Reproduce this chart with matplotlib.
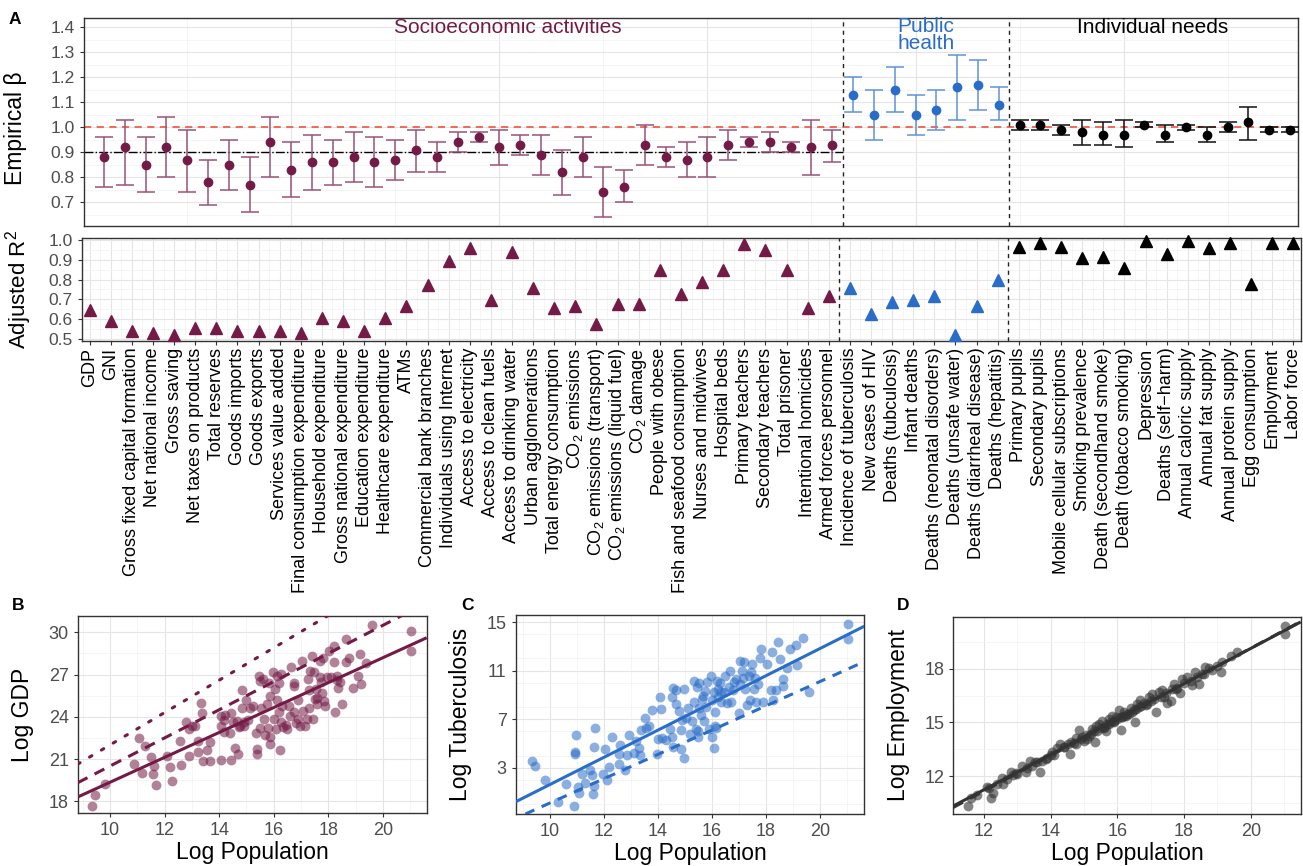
import numpy as np
import matplotlib
matplotlib.use("Agg")
import matplotlib.pyplot as plt
from matplotlib.ticker import MultipleLocator

plt.rcParams['font.family'] = ['Liberation Sans', 'DejaVu Sans']
plt.rcParams['mathtext.fontset'] = 'custom'
plt.rcParams['mathtext.rm'] = 'Liberation Sans'
plt.rcParams['mathtext.default'] = 'rm'

# ---------------- data: panel A ----------------
categories = [
    "GDP", "GNI", "Gross fixed capital formation", "Net national income", "Gross saving",
    "Net taxes on products", "Total reserves", "Goods imports", "Goods exports",
    "Services value added", "Final consumption expenditure", "Household expenditure",
    "Gross national expenditure", "Education expenditure", "Healthcare expenditure", "ATMs",
    "Commercial bank branches", "Individuals using Internet", "Access to electricity",
    "Access to clean fuels", "Access to drinking water", "Urban agglomerations",
    "Total energy consumption", "CO$_2$ emissions", "CO$_2$ emissions (transport)",
    "CO$_2$ emissions (liquid fuel)", "CO$_2$ damage", "People with obese",
    "Fish and seafood consumption", "Nurses and midwives", "Hospital beds", "Primary teachers",
    "Secondary teachers", "Total prisoner", "Intentional homicides", "Armed forces personnel",
    "Incidence of tuberculosis", "New cases of HIV", "Deaths (tubculosis)", "Infant deaths",
    "Deaths (neonatal disorders)", "Deaths (unsafe water)", "Deaths (diarrheal disease)",
    "Deaths (hepatitis)",
    "Primary pupils", "Secondary pupils", "Mobile cellular subscriptions", "Smoking prevalence",
    "Death (secondhand smoke)", "Death (tobacco smoking)", "Depression", "Deaths (self\u2212harm)",
    "Annual caloric supply", "Annual fat supply", "Annual protein supply", "Egg consumption",
    "Employment", "Labor force",
]
group_sizes = [36, 8, 14]
group_names = ["Socioeconomic activities", "Public\nhealth", "Individual needs"]

beta = [0.88, 0.92, 0.85, 0.92, 0.87, 0.78, 0.85, 0.77, 0.94, 0.83, 0.86, 0.86, 0.88, 0.86,
        0.87, 0.91, 0.88, 0.94, 0.96, 0.92, 0.93, 0.89, 0.82, 0.88, 0.74, 0.76, 0.93, 0.88,
        0.87, 0.88, 0.93, 0.94, 0.94, 0.92, 0.92, 0.93,
        1.13, 1.05, 1.15, 1.05, 1.07, 1.16, 1.17, 1.09,
        1.01, 1.01, 0.99, 0.98, 0.97, 0.97, 1.01, 0.97, 1.00, 0.97, 1.00, 1.02, 0.99, 0.99]
beta_lo = [0.76, 0.77, 0.74, 0.80, 0.74, 0.69, 0.75, 0.66, 0.80, 0.72, 0.75, 0.77, 0.78, 0.76,
           0.79, 0.82, 0.82, 0.90, 0.94, 0.85, 0.89, 0.81, 0.73, 0.80, 0.64, 0.70, 0.85, 0.84,
           0.80, 0.80, 0.87, 0.92, 0.90, 0.90, 0.81, 0.86,
           1.06, 0.95, 1.06, 0.97, 0.99, 1.03, 1.07, 1.03,
           0.99, 0.99, 0.97, 0.93, 0.93, 0.92, 1.00, 0.94, 0.99, 0.94, 0.98, 0.95, 0.98, 0.98]
beta_hi = [0.96, 1.03, 0.96, 1.04, 0.99, 0.87, 0.95, 0.88, 1.04, 0.94, 0.97, 0.95, 0.98, 0.96,
           0.95, 0.99, 0.94, 0.98, 0.98, 0.99, 0.97, 0.97, 0.91, 0.96, 0.84, 0.83, 1.01, 0.92,
           0.94, 0.96, 0.99, 0.96, 0.98, 0.94, 1.03, 0.99,
           1.20, 1.15, 1.24, 1.13, 1.15, 1.29, 1.27, 1.16,
           1.03, 1.03, 1.01, 1.03, 1.02, 1.03, 1.02, 1.01, 1.01, 1.00, 1.02, 1.08, 1.00, 1.00]
r2 = [0.645, 0.588, 0.537, 0.527, 0.517, 0.556, 0.556, 0.537, 0.537, 0.537, 0.527, 0.606,
      0.588, 0.537, 0.606, 0.667, 0.774, 0.895, 0.958, 0.695, 0.938, 0.758, 0.657, 0.668,
      0.577, 0.677, 0.677, 0.847, 0.727, 0.788, 0.847, 0.978, 0.949, 0.847, 0.657, 0.715,
      0.756, 0.627, 0.687, 0.695, 0.719, 0.517, 0.668, 0.796,
      0.965, 0.987, 0.965, 0.907, 0.916, 0.857, 0.997, 0.928, 0.997, 0.958, 0.987, 0.776,
      0.987, 0.987]

# ---------------- data: panels B-D ----------------
gdp_x = [9.36, 9.45, 9.82, 10.88, 11.06, 11.19, 11.29, 11.49, 11.57, 11.62, 11.68, 12.09, 12.19,
         12.29, 12.57, 12.62, 12.78, 12.88, 12.88, 13.00, 13.12, 13.21, 13.21, 13.34, 13.37, 13.40,
         13.55, 13.65, 13.68, 14.05, 14.06, 14.06, 14.16, 14.23, 14.38, 14.45, 14.45, 14.57, 14.65,
         14.69, 14.77, 14.83, 14.85, 14.90, 14.99, 15.04, 15.14, 15.24, 15.34, 15.39, 15.39, 15.45,
         15.48, 15.48, 15.54, 15.59, 15.63, 15.69, 15.74, 15.79, 15.83, 15.85, 15.88, 15.96, 16.00,
         16.05, 16.08, 16.12, 16.12, 16.18, 16.18, 16.22, 16.27, 16.27, 16.30, 16.35, 16.50, 16.57,
         16.64, 16.73, 16.75, 16.75, 16.80, 16.87, 16.95, 17.04, 17.06, 17.16, 17.20, 17.26, 17.28,
         17.34, 17.40, 17.44, 17.49, 17.54, 17.57, 17.59, 17.68, 17.71, 17.75, 17.80, 17.83, 17.89,
         17.95, 18.02, 18.10, 18.20, 18.20, 18.26, 18.31, 18.36, 18.44, 18.50, 18.63, 18.64, 18.76,
         18.89, 19.10, 19.16, 19.18, 19.38, 19.58, 21.02, 21.02, 14.16, 14.50, 14.71, 14.92, 15.88,
         16.44, 16.61, 16.88, 17.30, 17.50, 17.74, 18.30]
gdp_y = [17.67, 18.45, 19.20, 20.63, 22.52, 20.00, 21.95, 21.17, 19.94, 20.49, 19.18, 21.24, 20.46,
         19.42, 22.28, 20.58, 23.63, 23.14, 21.24, 23.37, 23.37, 21.53, 22.28, 24.96, 24.27, 20.87,
         21.64, 20.87, 22.20, 20.92, 23.35, 24.08, 23.78, 24.15, 22.85, 20.92, 24.25, 21.78, 23.73,
         21.35, 23.35, 25.93, 24.65, 23.35, 25.22, 23.75, 24.65, 24.74, 22.83, 21.70, 21.34, 26.92,
         26.57, 23.21, 24.63, 26.69, 23.85, 22.71, 24.89, 23.21, 26.38, 22.10, 22.54, 27.20, 23.85,
         25.98, 23.11, 26.92, 25.22, 26.38, 24.32, 21.64, 27.04, 23.61, 24.79, 23.25, 23.14, 24.74,
         27.56, 26.22, 26.38, 24.32, 23.56, 25.20, 23.37, 27.99, 24.39, 23.37, 23.85, 26.69, 25.89,
         27.28, 28.30, 23.82, 27.16, 25.98, 25.31, 24.89, 27.99, 26.81, 25.70, 28.18, 25.13, 24.79,
         26.81, 28.70, 26.81, 27.87, 29.05, 24.37, 26.88, 26.02, 26.45, 24.93, 29.53, 27.87, 28.20,
         26.07, 26.88, 28.46, 26.31, 27.82, 30.52, 30.07, 28.70, 22.95, 23.60, 23.25, 23.61, 25.50,
         23.44, 24.08, 23.85, 24.60, 25.30, 26.50, 26.60]

tb_x = [9.35, 9.45, 9.80, 10.31, 10.58, 10.88, 10.95, 10.93, 10.94, 11.05, 11.08, 11.19, 11.29,
        11.49, 11.57, 11.59, 11.62, 11.66, 11.64, 11.96, 12.02, 12.11, 12.19, 12.28, 12.55, 12.57,
        12.59, 12.77, 12.85, 12.94, 13.12, 13.18, 13.30, 13.33, 13.38, 13.53, 13.56, 13.67, 13.77,
        13.98, 14.01, 14.06, 14.11, 14.16, 14.31, 14.44, 14.50, 14.53, 14.55, 14.55, 14.65, 14.68,
        14.77, 14.85, 14.87, 14.90, 14.96, 14.98, 15.04, 15.10, 15.20, 15.26, 15.32, 15.35, 15.39,
        15.43, 15.48, 15.51, 15.53, 15.58, 15.63, 15.68, 15.70, 15.75, 15.78, 15.82, 15.88, 15.96,
        16.00, 16.01, 16.06, 16.08, 16.12, 16.16, 16.18, 16.22, 16.24, 16.29, 16.33, 16.43, 16.49,
        16.57, 16.64, 16.67, 16.71, 16.76, 16.83, 16.90, 17.00, 17.04, 17.10, 17.15, 17.20, 17.22,
        17.31, 17.37, 17.42, 17.49, 17.54, 17.59, 17.63, 17.71, 17.77, 17.83, 17.89, 18.04, 18.20,
        18.23, 18.26, 18.36, 18.46, 18.52, 18.63, 18.64, 18.78, 18.89, 19.12, 19.16, 19.38, 19.58,
        21.02, 21.02, 15.48, 16.12, 16.33, 17.45, 17.05]
tb_y = [3.58, 3.14, 1.95, 0.16, 1.68, -0.17, 5.68, 4.32, 4.10, 1.43, 0.88, 2.48, 1.76, 2.81, 2.42,
        0.85, 1.48, 6.26, 4.74, 2.45, 4.52, 1.95, 3.08, 5.54, 4.10, 3.28, 4.85, 2.78, 4.05, 5.70,
        4.24, 5.21, 4.60, 4.02, 6.12, 7.11, 6.31, 6.45, 7.74, 4.10, 5.34, 8.79, 7.83, 5.46, 5.26,
        6.23, 8.82, 5.54, 9.54, 4.74, 8.24, 9.37, 7.66, 6.12, 4.57, 6.94, 3.77, 9.51, 7.06, 7.94,
        5.81, 6.86, 8.38, 10.17, 6.17, 9.68, 5.54, 10.01, 7.88, 7.33, 8.66, 8.93, 6.86, 9.32, 8.02,
        10.09, 6.17, 10.59, 5.57, 8.60, 9.21, 4.60, 7.63, 6.31, 10.17, 8.85, 9.48, 9.95, 8.43, 9.21,
        10.53, 8.32, 9.62, 11.00, 8.38, 9.43, 10.03, 10.31, 7.50, 11.80, 11.00, 10.42, 11.69, 9.48,
        8.16, 10.53, 8.60, 11.55, 9.48, 10.37, 8.38, 9.90, 12.02, 12.79, 8.38, 11.55, 9.40, 12.52,
        8.55, 9.40, 13.32, 11.97, 9.70, 10.31, 11.19, 12.79, 13.15, 11.47, 13.68, 9.21, 14.81, 13.62,
        6.03, 6.45, 9.20, 10.90, 9.90]

emp_x = [11.53, 11.60, 12.08, 12.20, 12.28, 12.55, 12.57, 12.80, 12.88, 13.15, 13.25, 13.37, 13.53,
         13.67, 13.75, 14.03, 14.10, 14.28, 14.53, 14.57, 14.77, 14.85, 14.95, 15.00, 15.25, 15.33,
         15.45, 15.55, 15.67, 15.75, 15.85, 15.97, 16.05, 16.10, 16.20, 16.27, 16.40, 16.53, 16.60,
         16.67, 16.80, 16.95, 17.05, 17.17, 17.25, 17.35, 17.50, 17.60, 17.70, 17.87, 17.95, 18.10,
         18.23, 18.33, 18.45, 18.63, 18.75, 19.10, 19.15, 19.40, 19.58, 21.03, 21.02, 15.35, 15.75,
         16.15, 16.65, 17.00, 17.40, 13.00, 13.90, 14.40, 15.15, 15.60, 16.35, 16.85, 17.80, 18.55,
         12.40, 13.60, 14.70, 15.90, 16.50,
         14.20, 14.40, 14.60, 14.75, 14.90, 15.05, 15.10, 15.20, 15.30, 15.40, 15.50, 15.60, 15.70,
         15.80, 15.90, 16.00, 16.10, 16.20, 16.30, 16.45, 16.55, 16.70, 16.90, 17.10, 17.30, 17.45,
         17.65, 17.75, 18.00, 18.20, 18.40, 18.60, 18.85, 19.00, 12.70, 12.95, 13.30, 13.45, 13.85,
         14.00, 11.80, 12.15]
emp_y = [10.34, 10.77, 11.36, 10.77, 11.03, 11.87, 11.55, 12.24, 12.07, 12.58, 12.24, 12.82, 12.77,
         12.24, 12.82, 13.36, 13.20, 13.79, 13.79, 13.23, 14.11, 14.58, 14.17, 13.98, 14.64, 13.93,
         14.92, 15.10, 14.54, 15.20, 15.38, 15.29, 15.72, 14.60, 15.57, 15.38, 15.79, 15.05, 16.04,
         16.28, 16.09, 16.41, 16.60, 15.60, 16.73, 16.84, 16.09, 16.22, 17.16, 16.65, 17.44, 17.53,
         17.10, 17.85, 17.16, 18.09, 18.04, 17.85, 18.37, 18.75, 18.93, 20.43, 19.96, 14.82, 14.92,
         15.29, 15.85, 16.20, 16.45, 12.10, 13.00, 13.60, 14.25, 14.70, 15.50, 16.00, 16.95, 17.70,
         11.55, 12.80, 13.85, 15.05, 15.70,
         13.55, 13.60, 13.90, 13.80, 14.05, 14.30, 14.10, 14.35, 14.50, 14.55, 14.70, 14.75, 14.90,
         15.00, 15.10, 15.20, 15.30, 15.35, 15.50, 15.60, 15.75, 15.90, 16.05, 16.30, 16.45, 16.65,
         16.85, 16.90, 17.20, 17.35, 17.55, 17.70, 17.95, 18.15, 11.85, 12.15, 12.45, 12.55, 12.95,
         13.20, 10.95, 11.30]

# fitted lines (intercept, slope) drawn as ablines
gdp_lines = [(10.5, 0.885, "solid"), (10.5, 1.0, "dashed"), (10.5, 1.15, "dotted")]
tb_lines = [(-9.58, 1.12, "solid"), (-9.9, 1.0, "dashed")]
emp_lines = [(-0.65, 0.99, "solid"), (-0.84, 1.0, "dashed")]

MAROON = "#731B46"
BLUE = "#2A6DC8"
BLACK = "#000000"
group_colors = [MAROON, BLUE, BLACK]
ebar_colors = ["#9A5276", "#5D93DA", "#111111"]
TICK_C = "#4D4D4D"
GRID_MAJ = "#E5E5E5"
GRID_MIN = "#F2F2F2"

W, H = 1303, 866
fig = plt.figure(figsize=(W / 100, H / 100), dpi=100)


def box(x0, y0, x1, y1):
    return [x0 / W, 1 - y1 / H, (x1 - x0) / W, (y1 - y0) / H]


def style(ax):
    for s in ax.spines.values():
        s.set_color("#333333")
        s.set_linewidth(1.0)
    ax.grid(which="major", color=GRID_MAJ, lw=0.8, zorder=0)
    ax.grid(which="minor", color=GRID_MIN, lw=0.5, zorder=0)
    ax.set_axisbelow(True)
    ax.tick_params(which="major", length=3, color="#333333", labelcolor=TICK_C)
    ax.tick_params(which="minor", length=0)


x = np.arange(1, len(categories) + 1)
beta = np.array(beta)
lo = np.array(beta_lo)
hi = np.array(beta_hi)
r2 = np.array(r2)
edges = np.cumsum([0] + group_sizes)
div = [edges[1] + 0.5, edges[2] + 0.5]

# ---------------- panel A top ----------------
ax_a = fig.add_axes(box(84, 18, 1298, 225.7))
style(ax_a)
ax_a.set_xlim(0.04, 58.38)
ax_a.set_ylim(0.607, 1.436)
ax_a.xaxis.set_major_locator(MultipleLocator(10))
ax_a.xaxis.set_minor_locator(MultipleLocator(5))
ax_a.yaxis.set_major_locator(MultipleLocator(0.1))
ax_a.yaxis.set_minor_locator(MultipleLocator(0.05))
ax_a.tick_params(axis="x", bottom=False, labelbottom=False)
ax_a.tick_params(axis="y", labelsize=12.5)
ax_a.set_yticks(np.arange(0.7, 1.41, 0.1))
ax_a.set_yticklabels([f"{v:.1f}" for v in np.arange(0.7, 1.41, 0.1)])
ax_a.axhline(1.0, color="#F2604C", ls=(0, (4, 3)), lw=1.3, zorder=1)
ax_a.hlines(0.9, 0.04, div[0], color="black", ls="-.", lw=1.0, zorder=1)
for d in div:
    ax_a.axvline(d, color="#222222", ls=(0, (3, 3)), lw=1.0, zorder=1)
for g in range(3):
    sl = slice(edges[g], edges[g + 1])
    ax_a.errorbar(x[sl], beta[sl], yerr=[beta[sl] - lo[sl], hi[sl] - beta[sl]], fmt="o",
                  color=group_colors[g], ecolor=ebar_colors[g], ms=6, capsize=6.5,
                  elinewidth=1.1, capthick=1.1, zorder=3)
label_x = [20.4, 40.5, 51.4]
label_y = [1.40, 1.368, 1.40]
for g in range(3):
    ax_a.text(label_x[g], label_y[g], group_names[g], color=group_colors[g], fontsize=15,
              ha="center", va="center", linespacing=0.82)
ax_a.set_ylabel("Empirical \u03b2", fontsize=16.5)
ax_a.yaxis.set_label_coords(-0.047, 0.47)

# ---------------- panel A bottom (R2) ----------------
ax_r = fig.add_axes(box(82, 237.7, 1301, 340.7))
style(ax_r)
ax_r.set_xlim(0.64, 58.36)
ax_r.set_ylim(0.49, 1.012)
ax_r.set_xticks(x)
ax_r.set_xticks(x[:-1] + 0.5, minor=True)
ax_r.set_xticklabels(categories, rotation=90, fontsize=13, color="black")
ax_r.yaxis.set_major_locator(MultipleLocator(0.1))
ax_r.yaxis.set_minor_locator(MultipleLocator(0.05))
ax_r.set_yticks(np.arange(0.5, 1.01, 0.1))
ax_r.set_yticklabels([f"{v:.1f}" for v in np.arange(0.5, 1.01, 0.1)])
ax_r.tick_params(axis="y", labelsize=12.5)
ax_r.tick_params(axis="x", pad=2, labelcolor="black")
for d in div:
    ax_r.axvline(d, color="#222222", ls=(0, (3, 3)), lw=1.0, zorder=1)
for g in range(3):
    sl = slice(edges[g], edges[g + 1])
    ax_r.plot(x[sl], r2[sl], ls="none", marker="^", ms=8.5, color=group_colors[g],
              zorder=3, clip_on=False)
ax_r.set_ylabel("Adjusted R$^{2}$", fontsize=16)
ax_r.yaxis.set_label_coords(-0.039, 0.5)


# ---------------- panels B, C, D ----------------
def scatter_panel(rect, xs, ys, color, alpha, lines, xlim, ylim, yticks, ymin_step,
                  xticks, ylabel, dash):
    ax = fig.add_axes(rect)
    style(ax)
    ax.scatter(xs, ys, s=50, color=color, alpha=alpha, linewidths=0, zorder=2)
    for a, b, kind in lines:
        if kind == "solid":
            ls = "-"
        elif kind == "dashed":
            ls = (0, dash)
        else:
            ls = (0, (0.9, 3.6))
        ax.axline((0, a), slope=b, color=color, lw=2.2, ls=ls, zorder=3,
                  solid_capstyle="butt", dash_capstyle="round" if kind == "dotted" else "butt")
    ax.set_xlim(*xlim)
    ax.set_ylim(*ylim)
    ax.set_xticks(xticks)
    ax.xaxis.set_minor_locator(MultipleLocator(1))
    ax.set_yticks(yticks)
    ax.yaxis.set_minor_locator(MultipleLocator(ymin_step))
    ax.tick_params(labelsize=13)
    ax.set_xlabel("Log Population", fontsize=16.5)
    ax.xaxis.set_label_coords(0.5, -0.14)
    ax.set_ylabel(ylabel, fontsize=16.5)
    ax.yaxis.set_label_coords(-0.125, 0.5)
    return ax


scatter_panel(box(77.7, 615.7, 426.7, 813.3), gdp_x, gdp_y, MAROON, 0.55, gdp_lines,
              (8.82, 21.6), (17.15, 31.18), [18, 21, 24, 27, 30], 1.5,
              [10, 12, 14, 16, 18, 20], "Log GDP", (3.6, 2.6))
scatter_panel(box(515.7, 615, 864.3, 814), tb_x, tb_y, BLUE, 0.55, tb_lines,
              (8.73, 21.64), (-0.81, 15.58), [3, 7, 11, 15], 2,
              [10, 12, 14, 16, 18, 20], "Log Tuberculosis", (3.2, 2.6))
scatter_panel(box(953.3, 616.7, 1300.7, 814), emp_x, emp_y, "#333333", 0.6, emp_lines,
              (11.08, 21.5), (9.87, 20.93), [12, 15, 18], 1.5,
              [12, 14, 16, 18, 20], "Log Employment", (3.6, 2.6))

# panel letters
for lab, px, py in [("A", 15, 19), ("B", 18, 605), ("C", 468, 605), ("D", 903, 605)]:
    fig.text(px / W, 1 - py / H, lab, fontsize=12.5, fontweight="bold", ha="center",
             va="center")

fig.savefig("out.png", dpi=100)
